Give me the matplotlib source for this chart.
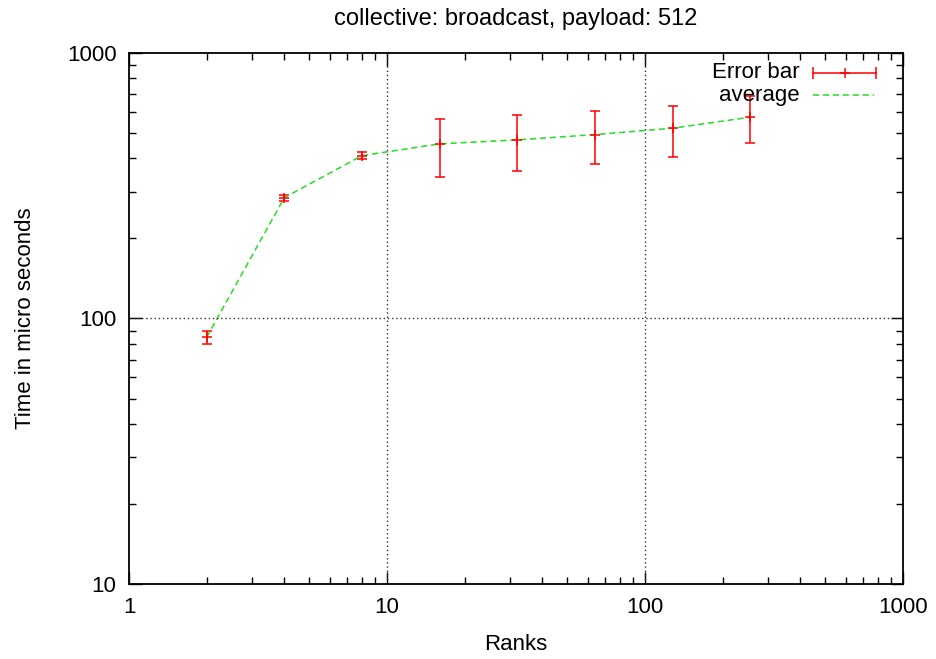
import numpy as np
import matplotlib.pyplot as plt

plt.rcParams['font.family'] = ['Liberation Sans', 'DejaVu Sans']

# datos
ranks = [2, 4, 8, 16, 32, 64, 128, 256]
avg = [85, 285, 410, 454, 470, 492, 520, 572]
t_min = [80, 277, 397, 342, 360, 381, 406, 459]
t_max = [90, 292, 422, 564, 583, 602, 631, 686]

titulo = "collective: broadcast, payload: 512"

rojo = '#ff0000'
verde = '#22dd22'
fs = 16

avg_a = np.array(avg)
err = [avg_a - np.array(t_min), np.array(t_max) - avg_a]

fig = plt.figure(figsize=(9.37, 6.59), dpi=100)
ax = fig.add_axes([0.1377, 0.1134, 0.8260, 0.8066])

ax.errorbar(ranks, avg, yerr=err, fmt='+', color=rojo, ecolor=rojo,
            elinewidth=1.1, capsize=3.5, capthick=1.1, markersize=7, mew=1.1)
ax.plot(ranks, avg, '--', color=verde, lw=1.1, dashes=(4, 2.5))

ax.set_xscale('log')
ax.set_yscale('log')
ax.set_xlim(1, 1000)
ax.set_ylim(10, 1000)
ax.set_xticks([1, 10, 100, 1000])
ax.set_xticklabels(['1', '10', '100', '1000'])
ax.set_yticks([10, 100, 1000])
ax.set_yticklabels(['10', '100', '1000'])

ax.tick_params(which='both', direction='in', top=True, right=True, labelsize=fs)
ax.tick_params(which='major', length=9, width=1, pad=9)
ax.tick_params(which='minor', length=5, width=1)
for s in ax.spines.values():
    s.set_linewidth(1.3)

for xv in [10, 100]:
    ax.axvline(xv, color='#333333', lw=1, ls=(0, (1, 2)))
ax.axhline(100, color='#333333', lw=1, ls=(0, (1, 2)))

# leyenda estilo gnuplot
tr = ax.transAxes
ax.text(0.867, 0.962, 'Error bar', transform=tr, ha='right', va='center', fontsize=fs)
ax.plot([0.884, 0.965], [0.962, 0.962], transform=tr, color=rojo, lw=1.1)
ax.plot([0.884, 0.965], [0.962, 0.962], transform=tr, color=rojo, ls='none',
        marker='|', markersize=8, mew=1.1)
ax.plot([0.9245], [0.962], transform=tr, color=rojo, marker='+', markersize=7, mew=1.1)
ax.text(0.867, 0.920, 'average', transform=tr, ha='right', va='center', fontsize=fs)
ax.plot([0.884, 0.962], [0.920, 0.920], transform=tr, color=verde, lw=1.1, dashes=(4, 2.5))

ax.set_title(titulo, fontsize=17, pad=20)
ax.set_xlabel('Ranks', fontsize=fs, labelpad=12)
ax.set_ylabel('Time in micro seconds', fontsize=fs, labelpad=22)

fig.savefig('out.png', dpi=100)
